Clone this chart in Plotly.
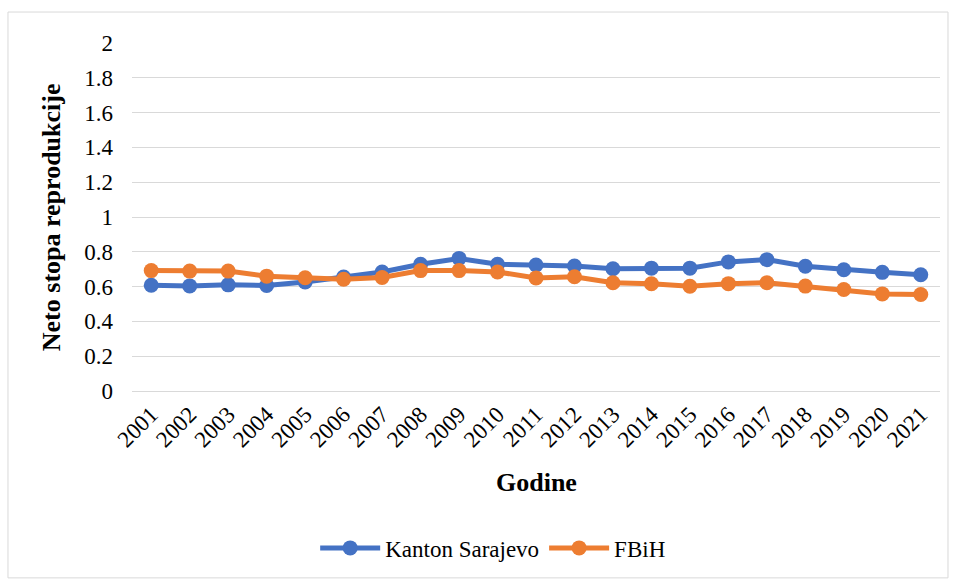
import plotly.graph_objects as go

years = [str(y) for y in range(2001, 2022)]
kanton_sarajevo = [0.608, 0.604, 0.610, 0.606, 0.627, 0.655, 0.684, 0.728, 0.762, 0.728,
                   0.724, 0.718, 0.703, 0.706, 0.706, 0.742, 0.755, 0.717, 0.697, 0.682, 0.668]
fbih = [0.692, 0.689, 0.689, 0.660, 0.651, 0.642, 0.652, 0.692, 0.692, 0.684,
        0.650, 0.657, 0.622, 0.616, 0.602, 0.617, 0.622, 0.603, 0.583, 0.558, 0.555]
y_ticks = [0, 0.2, 0.4, 0.6, 0.8, 1, 1.2, 1.4, 1.6, 1.8, 2]

FONT = "Liberation Serif"

fig = go.Figure()
for name, vals, color in [
    ("Kanton Sarajevo", kanton_sarajevo, "#4472C4"),
    ("FBiH", fbih, "#ED7D31"),
]:
    fig.add_trace(
        go.Scatter(
            x=years,
            y=vals,
            mode="lines+markers",
            name=name,
            line=dict(color=color, width=5),
            marker=dict(size=15, color=color),
        )
    )

fig.update_layout(
    width=957,
    height=582,
    paper_bgcolor="white",
    plot_bgcolor="white",
    font=dict(family=FONT, size=23, color="black"),
    margin=dict(l=132, r=17, t=43, b=191),
    showlegend=True,
    legend=dict(
        orientation="h",
        x=0.447,
        y=-0.451,
        xanchor="center",
        yanchor="middle",
        font=dict(family=FONT, size=23),
        itemwidth=60,
    ),
    xaxis=dict(
        type="category",
        range=[-0.5, 20.5],
        tickangle=-45,
        showgrid=False,
        showline=True,
        linecolor="#D9D9D9",
        linewidth=1,
        ticks="",
        tickfont=dict(family=FONT, size=23),
    ),
    yaxis=dict(
        range=[0, 2],
        tickvals=y_ticks,
        ticktext=[f"{v:g}" for v in y_ticks],
        showgrid=True,
        gridcolor="#D9D9D9",
        gridwidth=1,
        zeroline=False,
        ticks="",
        ticklabelstandoff=18,
        tickfont=dict(family=FONT, size=23),
    ),
    shapes=[
        dict(
            type="rect",
            xref="paper",
            yref="paper",
            x0=-0.1535,
            x1=1.0099,
            y0=-0.537,
            y1=1.089,
            line=dict(color="#D9D9D9", width=1),
            fillcolor="rgba(0,0,0,0)",
            layer="below",
        )
    ],
    annotations=[
        dict(
            text="<b>Godine</b>",
            xref="paper",
            yref="paper",
            x=0.5,
            y=-0.264,
            xanchor="center",
            yanchor="middle",
            showarrow=False,
            font=dict(family=FONT, size=26),
        ),
        dict(
            text="<b>Neto stopa reprodukcije</b>",
            xref="paper",
            yref="paper",
            x=-0.1,
            y=0.5,
            textangle=-90,
            xanchor="center",
            yanchor="middle",
            showarrow=False,
            font=dict(family=FONT, size=26),
        ),
    ],
)

fig.write_html(
    "out.html",
    config=dict(displayModeBar=False),
    post_script="document.body.style.margin='0';",
)
